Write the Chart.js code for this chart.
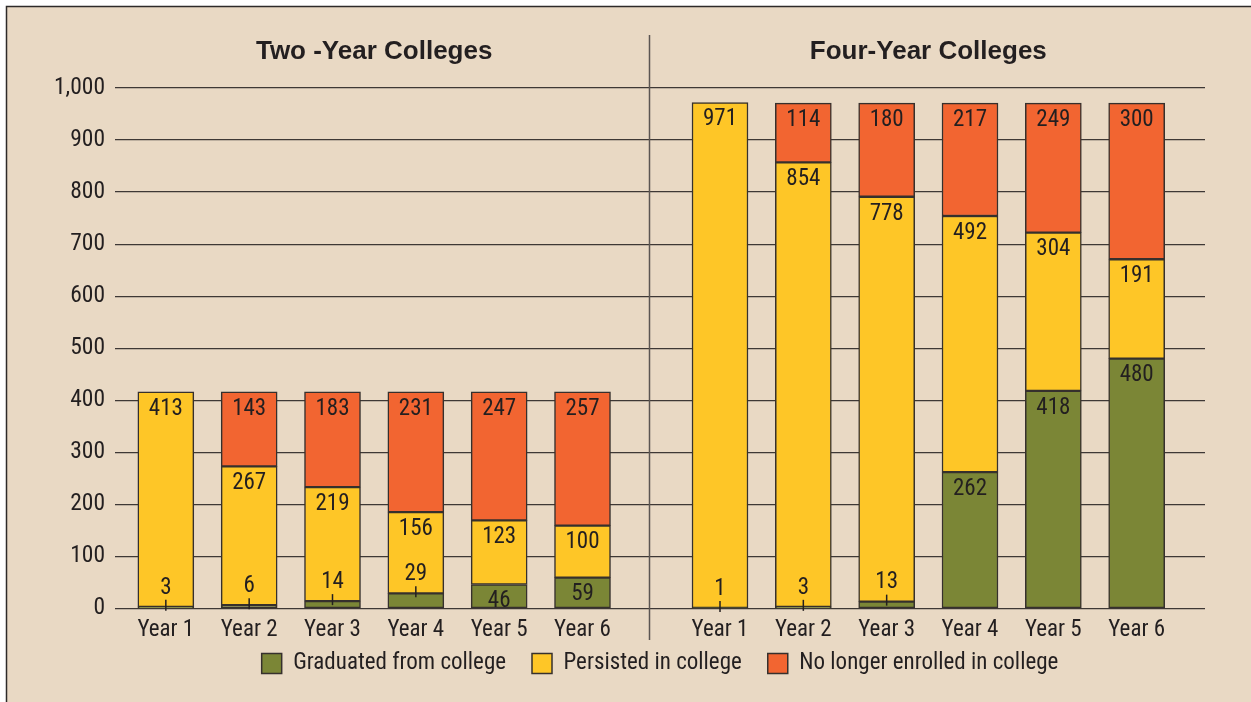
<!DOCTYPE html>
<html>
<head>
<meta charset="utf-8">
<script src="https://cdn.jsdelivr.net/npm/chart.js@4.4.1/dist/chart.umd.min.js"></script>
<style>
  html, body { margin: 0; padding: 0; background: #fff; }
</style>
</head>
<body>
<canvas id="chart" width="1251" height="702"></canvas>
<script>
// data
const groupTitles = ['Two -Year Colleges', 'Four-Year Colleges'];
const years = ['Year 1', 'Year 2', 'Year 3', 'Year 4', 'Year 5', 'Year 6'];
const seriesNames = ['Graduated from college', 'Persisted in college', 'No longer enrolled in college'];

const twoGraduated = [3, 6, 14, 29, 46, 59];
const twoPersisted = [413, 267, 219, 156, 123, 100];
const twoLeft = [null, 143, 183, 231, 247, 257];

const fourGraduated = [1, 3, 13, 262, 418, 480];
const fourPersisted = [971, 854, 778, 492, 304, 191];
const fourLeft = [null, 114, 180, 217, 249, 300];

const yMax = 1000;
const yStep = 100;

// look
const ink = '#231f20';
const narrow = "'Roboto Condensed', 'DejaVu Sans Condensed', sans-serif";
const colors = ['#7b8636', '#fec627', '#f26531'];
const gap = 0.65; // extra space between the two groups, in bar slots

const allLabels = years.concat(years);
const xPos = i => (i < years.length ? i + 1 : i + 1 + gap);
const makeData = (a, b) => a.concat(b).map((v, i) => ({ x: xPos(i), y: v }));

const datasets = [
  makeData(twoGraduated, fourGraduated),
  makeData(twoPersisted, fourPersisted),
  makeData(twoLeft, fourLeft)
].map((d, k) => ({
  label: seriesNames[k],
  data: d,
  backgroundColor: colors[k],
  borderColor: '#36302d',
  borderWidth: 1.5,
  borderSkipped: false,
  barThickness: 56
}));

// beige panel with the thin frame
const backdrop = {
  id: 'backdrop',
  beforeDraw(chart) {
    const c = chart.ctx;
    c.save();
    c.fillStyle = '#fff';
    c.fillRect(0, 0, chart.width, chart.height);
    c.fillStyle = '#e9d9c4';
    c.fillRect(6, 6, chart.width - 6, chart.height - 6);
    c.strokeStyle = '#2e2a28';
    c.lineWidth = 1.5;
    c.beginPath();
    c.moveTo(6.5, chart.height);
    c.lineTo(6.5, 6.5);
    c.lineTo(chart.width, 6.5);
    c.stroke();
    c.restore();
  }
};

// legend padding spaces the items apart; lift it back under the axis labels
const legendLift = {
  id: 'legendLift',
  afterLayout(chart) {
    chart.legend.top -= 26;
    chart.legend.bottom -= 26;
  }
};

// group titles and the divider between them
const groups = {
  id: 'groups',
  beforeDatasetsDraw(chart) {
    const c = chart.ctx, xs = chart.scales.x;
    const n = years.length;
    const divX = Math.round(xs.getPixelForValue((xPos(n - 1) + xPos(n)) / 2)) - 1.5;
    c.save();
    c.strokeStyle = '#5b5552';
    c.lineWidth = 1.5;
    c.beginPath();
    c.moveTo(divX, 35);
    c.lineTo(divX, 640);
    c.stroke();
    c.fillStyle = ink;
    c.font = "bold 26px 'Liberation Sans', Arial, sans-serif";
    c.textAlign = 'center';
    c.textBaseline = 'middle';
    c.fillText(groupTitles[0], xs.getPixelForValue((xPos(0) + xPos(n - 1)) / 2), 52);
    c.fillText(groupTitles[1], xs.getPixelForValue((xPos(n) + xPos(2 * n - 1)) / 2), 52);
    c.restore();
  }
};

// value labels on each segment; tiny ones sit above with a small tick
const values = {
  id: 'values',
  afterDatasetsDraw(chart) {
    const c = chart.ctx;
    c.save();
    c.font = '23px ' + narrow;
    c.fillStyle = ink;
    c.strokeStyle = ink;
    c.lineWidth = 1.5;
    c.textAlign = 'center';
    c.textBaseline = 'middle';
    chart.data.datasets.forEach((ds, di) => {
      chart.getDatasetMeta(di).data.forEach((bar, i) => {
        const v = ds.data[i].y;
        if (v == null) return;
        if (v < 35) {
          c.beginPath();
          c.moveTo(bar.x, bar.y - 7);
          c.lineTo(bar.x, bar.y + 4);
          c.stroke();
          c.fillText(String(v), bar.x, bar.y - 19);
        } else {
          c.fillText(String(v), bar.x, bar.y + 17);
        }
      });
    });
    c.restore();
  }
};

new Chart(document.getElementById('chart'), {
  type: 'bar',
  data: { datasets: datasets },
  options: {
    responsive: false,
    animation: false,
    layout: { padding: { top: 88, right: 46, bottom: -9, left: 0 } },
    scales: {
      x: {
        type: 'linear',
        stacked: true,
        offset: false,
        min: 0.39,
        max: 13.47,
        grid: { display: false, drawTicks: false },
        border: { display: false },
        afterBuildTicks: s => { s.ticks = allLabels.map((l, i) => ({ value: xPos(i) })); },
        ticks: {
          autoSkip: false,
          maxRotation: 0,
          padding: 8,
          color: ink,
          font: { family: narrow, size: 23 },
          callback: (v, i) => allLabels[i]
        }
      },
      y: {
        stacked: true,
        min: 0,
        max: yMax,
        grid: { color: '#3e3835', lineWidth: 1.2, drawTicks: false },
        border: { display: false },
        afterFit: s => { s.width = 115; },
        ticks: {
          stepSize: yStep,
          padding: 10,
          color: ink,
          font: { family: narrow, size: 23.5 },
          callback: v => v.toLocaleString('en-US')
        }
      }
    },
    plugins: {
      tooltip: { enabled: false },
      legend: {
        position: 'bottom',
        fullSize: false,
        labels: {
          boxWidth: 20,
          boxHeight: 20,
          padding: 26,
          color: ink,
          font: { family: narrow, size: 23 }
        }
      }
    }
  },
  plugins: [backdrop, legendLift, groups, values]
});
</script>
</body>
</html>
